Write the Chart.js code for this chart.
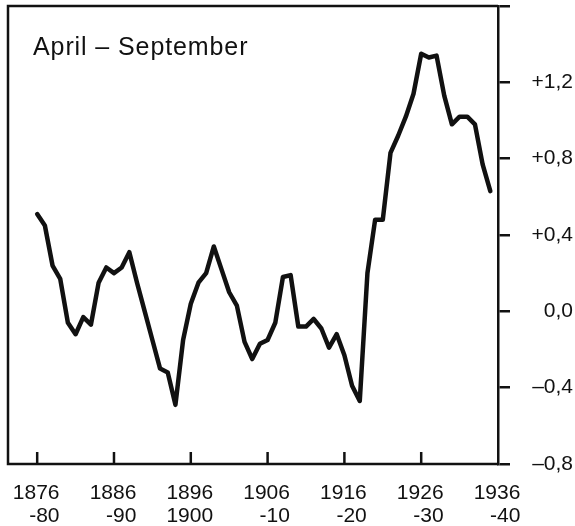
<!DOCTYPE html>
<html>
<head>
<meta charset="utf-8">
<script src="https://cdn.jsdelivr.net/npm/chart.js@4.4.1/dist/chart.umd.min.js"></script>
<style>
	html, body { margin: 0; padding: 0; background: #fff; }
	#wrap { width: 575px; height: 526px; }
</style>
</head>
<body>
<div id="wrap"><canvas id="chart" width="575" height="526"></canvas></div>
<script>
// Chart data

const titleText = "April \u2013 September";

const years = [
	1876, 1877, 1878, 1879, 1880, 1881, 1882, 1883, 1884, 1885,
	1886, 1887, 1888, 1889, 1890, 1891, 1892, 1893, 1894, 1895,
	1896, 1897, 1898, 1899, 1900, 1901, 1902, 1903, 1904, 1905,
	1906, 1907, 1908, 1909, 1910, 1911, 1912, 1913, 1914, 1915,
	1916, 1917, 1918, 1919, 1920, 1921, 1922, 1923, 1924, 1925,
	1926, 1927, 1928, 1929, 1930, 1931, 1932, 1933, 1934, 1935
];

const anomaly = [
	0.51, 0.45, 0.24, 0.17, -0.06, -0.12, -0.03, -0.07, 0.15, 0.23,
	0.20, 0.23, 0.31, 0.15, 0.00, -0.15, -0.30, -0.32, -0.49, -0.15,
	0.04, 0.15, 0.20, 0.34, 0.22, 0.10, 0.03, -0.16, -0.25, -0.17,
	-0.15, -0.06, 0.18, 0.19, -0.08, -0.08, -0.04, -0.09, -0.19, -0.12,
	-0.23, -0.39, -0.47, 0.20, 0.48, 0.48, 0.83, 0.92, 1.02, 1.14,
	1.35, 1.33, 1.34, 1.13, 0.98, 1.02, 1.02, 0.98, 0.77, 0.63
];

const xTickYears = [1876, 1886, 1896, 1906, 1916, 1926, 1936];
const xTickTop = ["1876", "1886", "1896", "1906", "1916", "1926", "1936"];
const xTickBottom = ["-80", "-90", "1900", "-10", "-20", "-30", "-40"];

const yTicks = [-0.8, -0.4, 0, 0.4, 0.8, 1.2, 1.6];
const yTickLabels = ["\u20130,8", "\u20130,4", "0,0", "+0,4", "+0,8", "+1,2", ""];

const ink = "#111";
const fontFamily = "'Liberation Sans', Arial, Helvetica, sans-serif";


// Frame, inward x ticks, x labels and the title

const framePlugin = {
	id: "frame",
	afterDraw(chart) {
		const ctx = chart.ctx;
		const area = chart.chartArea;
		const xs = chart.scales.x;

		ctx.save();
		ctx.strokeStyle = ink;
		ctx.lineWidth = 2.5;
		ctx.beginPath();
		ctx.moveTo(area.right, area.top);
		ctx.lineTo(area.left, area.top);
		ctx.lineTo(area.left, area.bottom);
		ctx.lineTo(area.right, area.bottom);
		ctx.stroke();

		// short ticks pointing into the plot
		xTickYears.forEach(v => {
			if (v >= xs.max) return;
			let px = xs.getPixelForValue(v);
			ctx.beginPath();
			ctx.moveTo(px, area.bottom);
			ctx.lineTo(px, area.bottom - 12);
			ctx.stroke();
		});

		// two-line labels, right aligned to each other
		ctx.fillStyle = ink;
		ctx.font = "21px " + fontFamily;
		ctx.textAlign = "right";
		ctx.textBaseline = "alphabetic";
		xTickYears.forEach((v, i) => {
			let px = xs.getPixelForValue(v) - 1;
			let w = ctx.measureText(xTickTop[i]).width;
			ctx.fillText(xTickTop[i], px + w / 2, area.bottom + 35);
			ctx.fillText(xTickBottom[i], px + w / 2, area.bottom + 58);
		});

		ctx.font = "25px " + fontFamily;
		ctx.letterSpacing = "0.9px";
		ctx.textAlign = "left";
		ctx.fillText(titleText, area.left + 25, 55);
		ctx.restore();
	}
};


const ctx = document.getElementById("chart").getContext("2d");

new Chart(ctx, {
	type: "line",
	data: {
		datasets: [{
			data: years.map((y, i) => ({ x: y, y: anomaly[i] })),
			borderColor: ink,
			borderWidth: 4.5,
			borderJoinStyle: "round",
			borderCapStyle: "round",
			pointRadius: 0,
			tension: 0,
			fill: false
		}]
	},
	options: {
		responsive: false,
		animation: false,
		layout: { padding: { left: 8, top: 6, right: 2, bottom: 0 } },
		plugins: {
			legend: { display: false },
			title: { display: false },
			tooltip: { enabled: false }
		},
		scales: {
			x: {
				type: "linear",
				min: 1872.2,
				max: 1936,
				grid: { display: false },
				border: { display: false },
				ticks: { display: false },
				afterBuildTicks: s => { s.ticks = xTickYears.map(v => ({ value: v })); },
				afterFit: s => { s.height = 62; }
			},
			y: {
				position: "right",
				min: -0.8,
				max: 1.6,
				afterBuildTicks: s => { s.ticks = yTicks.map(v => ({ value: v })); },
				afterFit: s => {
					s.width = 75;
					s.paddingTop = 0;
					s.paddingBottom = 0;
				},
				grid: {
					drawOnChartArea: false,
					drawTicks: true,
					tickLength: 12,
					color: ink,
					lineWidth: 2.5
				},
				border: { display: true, color: ink, width: 2.5 },
				ticks: {
					callback: (v, i) => yTickLabels[i],
					color: ink,
					crossAlign: "far",
					padding: 20,
					font: { family: fontFamily, size: 21 }
				}
			}
		}
	},
	plugins: [framePlugin]
});
</script>
</body>
</html>
